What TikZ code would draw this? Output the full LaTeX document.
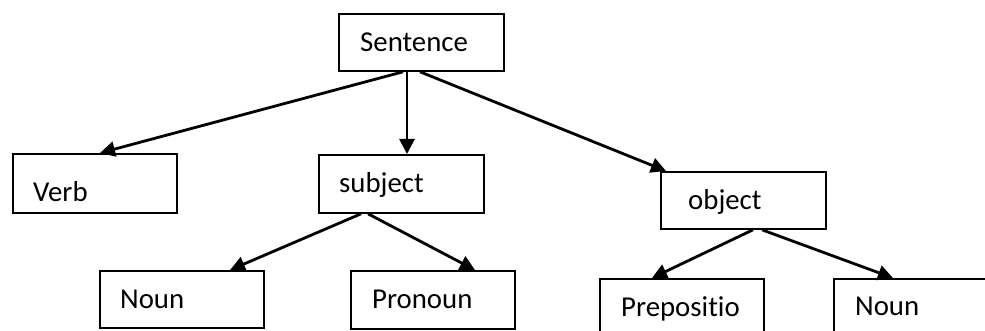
\documentclass[tikz,border=0pt]{standalone}
\usepackage{fontspec}
\setmainfont{Carlito}[Ligatures=NoCommon]
\usetikzlibrary{arrows.meta}
\begin{document}
\begin{tikzpicture}[x=1pt,y=-1pt,
  box/.style={draw,line width=1.8pt,inner sep=0pt,anchor=north west},
  lbl/.style={anchor=base west,inner sep=0pt,font=\fontsize{28.8}{34}\selectfont},
  arr/.style={line width=2.8pt,-{Triangle[length=15pt,width=15pt]}}]
\clip (0,0) rectangle (985,331);
\fill[white] (0,0) rectangle (985,331);
% boxes
\node[box,minimum width=165pt,minimum height=57pt] (sent) at (338,13) {};
\node[box,minimum width=164pt,minimum height=59pt] (verb) at (12,153) {};
\node[box,minimum width=165pt,minimum height=58pt] (subj) at (318,154) {};
\node[box,minimum width=164pt,minimum height=57pt] (noun1) at (99,270) {};
\node[box,minimum width=164pt,minimum height=58pt] (pron) at (350,270) {};
\node[box,minimum width=165pt,minimum height=57pt] (obj) at (660,171) {};
\node[box,minimum width=164pt,minimum height=70pt] (prep) at (599,278) {};
\node[box,minimum width=175pt,minimum height=70pt] (noun2) at (833,278) {};
% labels
\node[lbl] (tsent) at (360,52) {Sentence};
\node[lbl] (tverb) at (33,202) {Verb};
\node[lbl] (tsubj) at (339,193) {subject};
\node[lbl] (tnoun1) at (120,308) {Noun};
\node[lbl] (tpron) at (372,308) {Pronoun};
\node[lbl] (tobj) at (688,210) {object};
\node[lbl] (tprep) at (621,316) {Prepositio};
\node[lbl] (tnoun2) at (855,315) {Noun};
% arrows
\draw[arr] ([xshift=65pt]sent.south west) -- ([xshift=88pt]verb.north west);
\draw[arr] ([xshift=69pt]sent.south west) -- ([xshift=89pt]subj.north west);
\draw[arr] ([xshift=82pt]sent.south west) -- ([xshift=6pt]obj.north west);
\draw[arr] ([xshift=43pt]subj.south west) -- ([xshift=131pt]noun1.north west);
\draw[arr] ([xshift=50pt]subj.south west) -- ([xshift=125pt]pron.north west);
\draw[arr] ([xshift=93pt]obj.south west) -- ([xshift=53pt]prep.north west);
\draw[arr] ([xshift=102pt]obj.south west) -- ([xshift=60pt]noun2.north west);
\end{tikzpicture}
\end{document}
